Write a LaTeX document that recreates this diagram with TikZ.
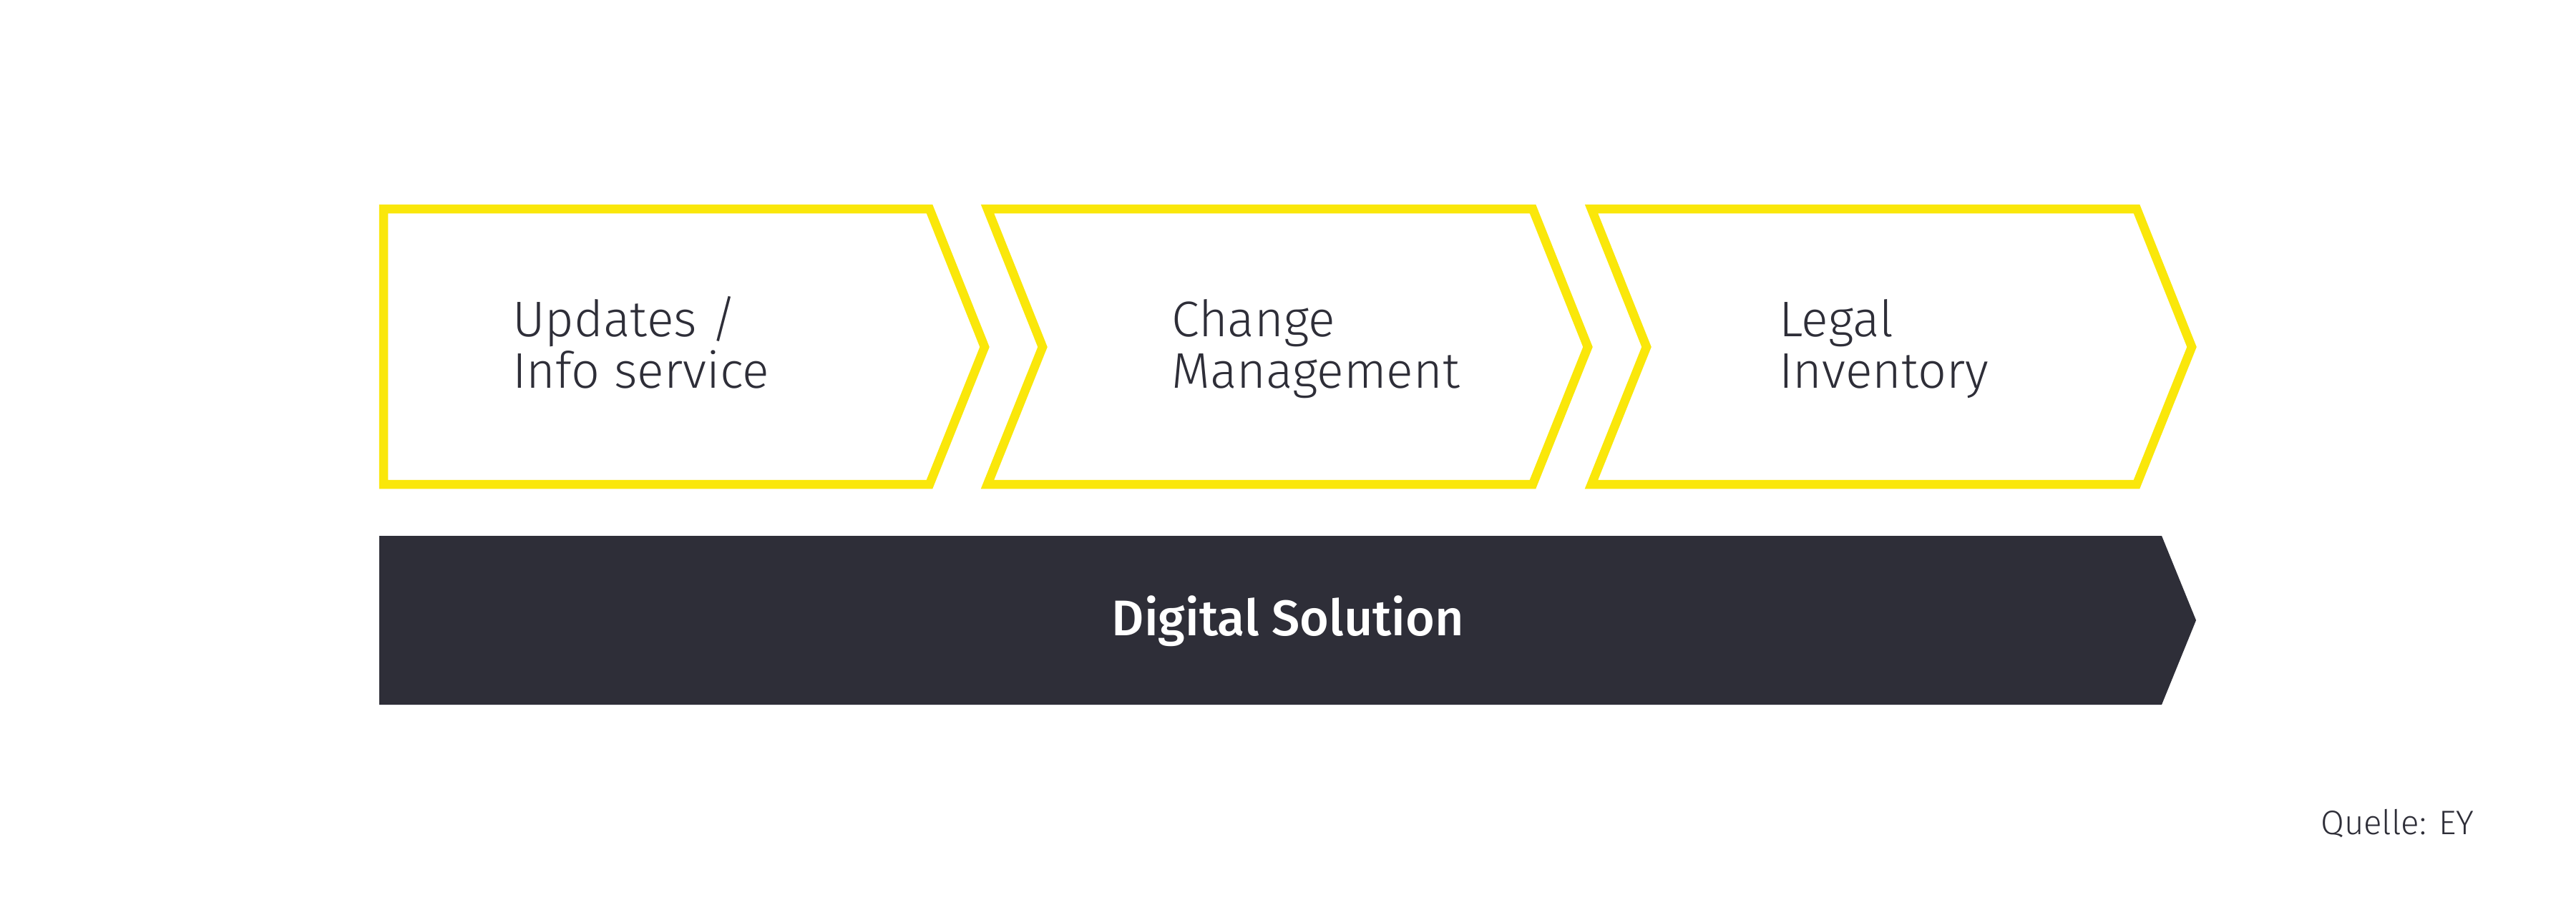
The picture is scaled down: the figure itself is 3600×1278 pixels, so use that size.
\documentclass[tikz,border=0pt]{standalone}
\usepackage{fontspec}
\setmainfont{Fira Sans Light}[BoldFont={Fira Sans Medium}]
\definecolor{eyyellow}{HTML}{FAE70A}
\definecolor{eydark}{HTML}{2E2E38}
\begin{document}
\begin{tikzpicture}[x=1pt,y=-1pt,
  chev/.style={draw=eyyellow,line width=12.5pt,line join=miter,fill=white},
  lbl/.style={anchor=base west,inner sep=0pt,text=eydark,font=\fontsize{70}{72}\selectfont},
  barlbl/.style={anchor=base,inner sep=0pt,text=white,font=\fontsize{70}{72}\selectfont\bfseries},
  src/.style={anchor=base west,inner sep=0pt,text=eydark,font=\fontsize{47.5}{52}\selectfont}]
\useasboundingbox (0,0) rectangle (3600,1278);
\fill[white] (0,0) rectangle (3600,1278);
% chevrons
\draw[chev] (536,292) -- (1299,292) -- (1376,485) -- (1299,677) -- (536,677) -- cycle;
\draw[chev] (1380,292) -- (2142,292) -- (2219,485) -- (2142,677) -- (1380,677) -- (1457,485) -- cycle;
\draw[chev] (2224,292) -- (2986,292) -- (3063,485) -- (2986,677) -- (2224,677) -- (2301,485) -- cycle;
% bar
\fill[eydark] (530,749) -- (3021,749) -- (3069,867) -- (3021,985) -- (530,985) -- cycle;
% labels
\node[lbl] (l1) at (716,470) {\vtop{\baselineskip=72pt\hbox{Updates /}\hbox{Info service}}};
\node[lbl] (l2) at (1637,470) {\vtop{\baselineskip=72pt\hbox{Change}\hbox{Management}}};
\node[lbl] (l3) at (2486,470) {\vtop{\baselineskip=72pt\hbox{Legal}\hbox{Inventory}}};
\node[barlbl] (bar) at (1800,888) {Digital Solution};
\node[src] (q) at (3243,1166) {Quelle: EY};
\end{tikzpicture}
\end{document}
